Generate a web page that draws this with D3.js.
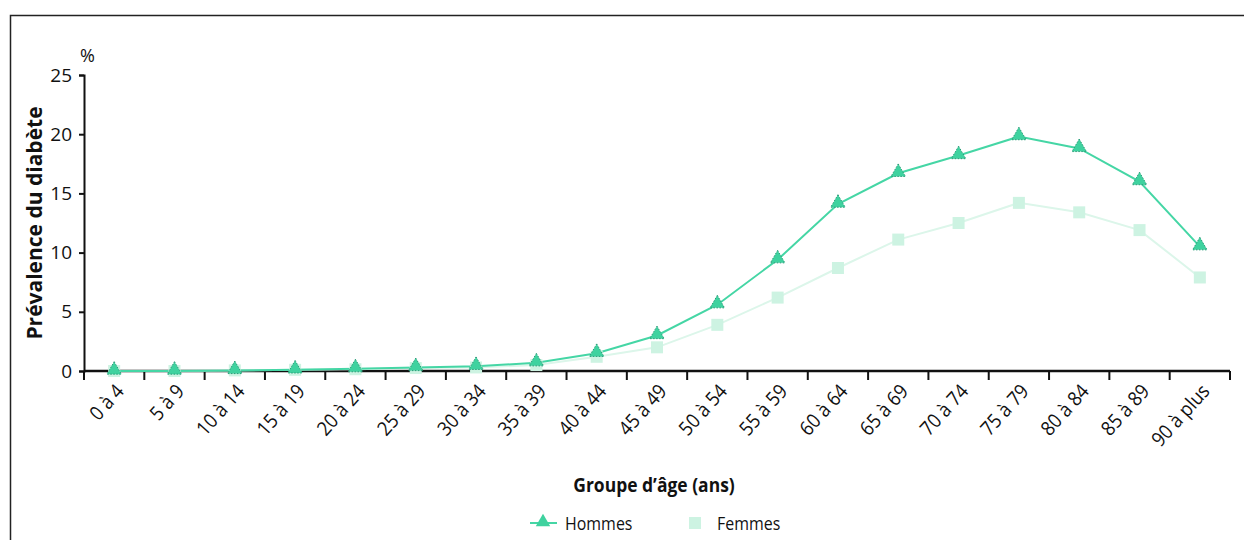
<!DOCTYPE html>
<html>
<head>
<meta charset="utf-8">
<script src="https://cdn.jsdelivr.net/npm/d3@7"></script>
<style>
  body { margin: 0; background: #fff; }
  svg text { font-family: "Open Sans", "Noto Sans", sans-serif; fill: #111; }
</style>
</head>
<body>
<div id="chart"></div>
<script>
var svgWidth = 1244;
var svgHeight = 540;

// data
var ageGroups = ["0 à 4", "5 à 9", "10 à 14", "15 à 19", "20 à 24", "25 à 29", "30 à 34",
  "35 à 39", "40 à 44", "45 à 49", "50 à 54", "55 à 59", "60 à 64", "65 à 69",
  "70 à 74", "75 à 79", "80 à 84", "85 à 89", "90 à plus"];
var hommes = [0.0, 0.0, 0.05, 0.1, 0.2, 0.3, 0.4, 0.7, 1.5, 3.0, 5.6, 9.4, 14.1, 16.7, 18.2, 19.8, 18.8, 16.0, 10.5];
var femmes = [0.0, 0.0, 0.05, 0.1, 0.15, 0.25, 0.3, 0.5, 1.2, 2.0, 3.9, 6.2, 8.7, 11.1, 12.5, 14.2, 13.4, 11.9, 7.9];
var yTicks = [0, 5, 10, 15, 20, 25];

var colHommes = "#45d6a5";
var colFemmes = "#cdf3e2";

var margin = { top: 75, right: 14, bottom: 169, left: 84 };
var width = svgWidth - margin.left - margin.right;
var height = svgHeight - margin.top - margin.bottom;

var svg = d3.select("#chart").append("svg")
  .attr("width", svgWidth)
  .attr("height", svgHeight);

// frame
svg.append("path")
  .attr("d", "M10.5,540 V15.5 H1244")
  .attr("fill", "none")
  .attr("stroke", "#222")
  .attr("stroke-width", 1.5);

var chart = svg.append("g")
  .attr("transform", `translate(${margin.left}, ${margin.top})`);

var x = d3.scaleBand().domain(ageGroups).range([0, 1146]).padding(0);
var y = d3.scaleLinear().domain([0, 25]).range([height, 0]);
var cx = d => x(d) + x.bandwidth() / 2;

// y axis
var yAxis = chart.append("g")
  .call(d3.axisLeft(y).tickValues(yTicks).tickSize(5).tickPadding(7));
yAxis.select(".domain").attr("stroke", "#111").attr("stroke-width", 2);
yAxis.selectAll("line").attr("stroke", "#111").attr("stroke-width", 2);
yAxis.selectAll("text").style("font-size", "19px").attr("fill", "#111");

chart.append("text")
  .attr("x", -4)
  .attr("y", -13)
  .style("font-size", "18px")
  .text("%");

// x axis with ticks at band edges
var xAxis = chart.append("g")
  .attr("transform", `translate(0, ${height})`);
xAxis.append("line")
  .attr("x1", 0).attr("x2", 1146)
  .attr("stroke", "#111").attr("stroke-width", 2.5);
xAxis.selectAll(".tk")
  .data(ageGroups.concat(["end"]))
  .enter().append("line")
  .attr("class", "tk")
  .attr("x1", (d, i) => i < ageGroups.length ? x(d) : x(ageGroups[i - 1]) + x.bandwidth())
  .attr("x2", (d, i) => i < ageGroups.length ? x(d) : x(ageGroups[i - 1]) + x.bandwidth())
  .attr("y1", 0).attr("y2", 9)
  .attr("stroke", "#111").attr("stroke-width", 2);
xAxis.selectAll(".lbl")
  .data(ageGroups)
  .enter().append("text")
  .attr("class", "lbl")
  .attr("text-anchor", "end")
  .attr("transform", d => `translate(${cx(d) + 11}, ${21}) rotate(-48) scale(0.9, 1)`)
  .style("font-size", "20px")
  .text(d => d);

// lines
var line = d3.line()
  .x((d, i) => cx(ageGroups[i]))
  .y(d => y(d));

chart.append("path")
  .datum(femmes)
  .attr("d", line)
  .attr("fill", "none")
  .attr("stroke", "#dcf6ea")
  .attr("stroke-width", 2);

chart.append("path")
  .datum(hommes)
  .attr("d", line)
  .attr("fill", "none")
  .attr("stroke", colHommes)
  .attr("stroke-width", 2);

chart.selectAll(".sq")
  .data(femmes)
  .enter().append("rect")
  .attr("class", "sq")
  .attr("x", (d, i) => cx(ageGroups[i]) - 6)
  .attr("y", d => y(d) - 6)
  .attr("width", 12).attr("height", 12)
  .attr("fill", colFemmes);

var tri = d3.symbol().type(d3.symbolTriangle).size(90);
chart.selectAll(".tri")
  .data(hommes)
  .enter().append("path")
  .attr("class", "tri")
  .attr("d", tri)
  .attr("transform", (d, i) => `translate(${cx(ageGroups[i])}, ${y(d) - 1})`)
  .attr("fill", "#3fd29f")
  .attr("stroke", "#2b9c78")
  .attr("stroke-width", 1)
  .attr("stroke-dasharray", "1.5,1.5");

// axis titles
svg.append("text")
  .attr("transform", `translate(42, ${margin.top + height / 2}) rotate(-90)`)
  .attr("text-anchor", "middle")
  .style("font-size", "21px")
  .style("font-weight", "bold")
  .text("Prévalence du diabète");

svg.append("text")
  .attr("transform", "translate(654, 492) scale(0.92, 1)")
  .attr("text-anchor", "middle")
  .style("font-size", "19px")
  .style("font-weight", "bold")
  .text("Groupe d’âge (ans)");

// legend
var leg = svg.append("g").attr("transform", "translate(0, 523)");
leg.append("line")
  .attr("x1", 530).attr("x2", 557)
  .attr("stroke", colHommes).attr("stroke-width", 2);
leg.append("path")
  .attr("d", tri)
  .attr("transform", "translate(543, -1)")
  .attr("fill", "#3fd29f");
leg.append("text")
  .attr("transform", "translate(565, 7) scale(0.84, 1)")
  .style("font-size", "19px")
  .text("Hommes");
leg.append("rect")
  .attr("x", 689).attr("y", -6)
  .attr("width", 12).attr("height", 12)
  .attr("fill", colFemmes);
leg.append("text")
  .attr("transform", "translate(717, 7) scale(0.84, 1)")
  .style("font-size", "19px")
  .text("Femmes");
</script>
</body>
</html>
